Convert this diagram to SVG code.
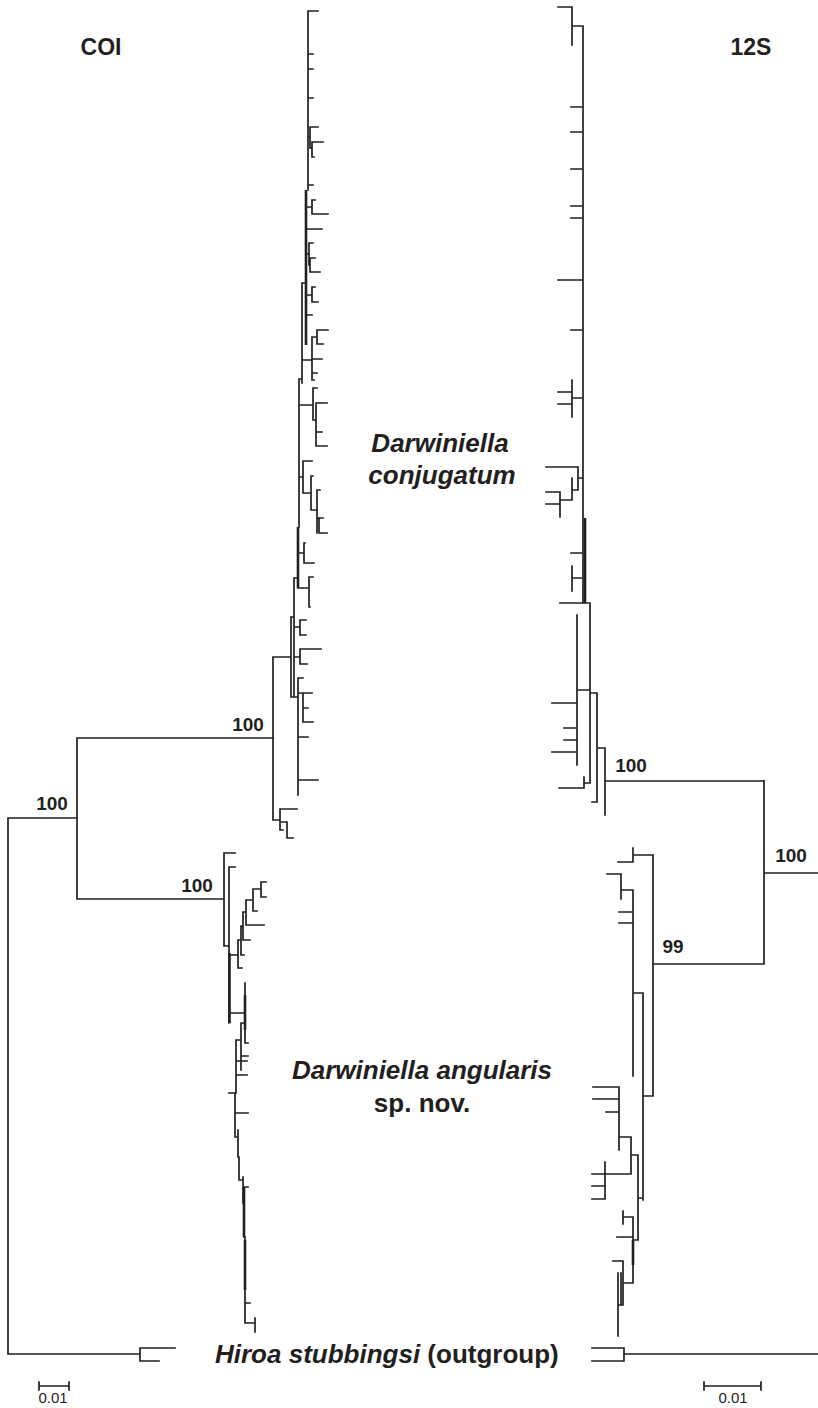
<svg xmlns="http://www.w3.org/2000/svg" width="818" height="1408" viewBox="0 0 818 1408">
<style>
.br{fill:none;stroke:#231f20;stroke-width:1.7;stroke-linecap:square}
.tk{fill:none;stroke:#231f20;stroke-width:2.6}
.t{font-family:"Liberation Sans",Arial,sans-serif;font-weight:bold;fill:#231f20}
.title{font-size:23px}
.bs{font-size:19px}
.sp{font-size:26px;font-style:italic}
.sn{font-size:26px;font-style:normal}
.sc{font-family:"Liberation Sans",Arial,sans-serif;font-size:15px;fill:#231f20}
</style>
<rect width="818" height="1408" fill="#fff"/>
<g id="connectors">
<g id="coi-conjugatum">
<path class="br" d="M308,11H318 M308,11V190 M308,54H313 M308,69H313 M308,98H313 M308,137H310 M310,127V148 M310,127H318 M310,148H312 M312,142V157 M312,142H323 M312,157H314 M308,185H313 M306,207H312 M312,200V214 M312,200H315 M312,214H328 M306,229H322 M306,254H309 M309,243V265 M309,243H313 M309,265H310 M310,258V272 M310,258H315 M310,272H320 M302,283V383 M302,283H306 M306,295H312 M312,287V302 M312,287H315 M312,302H318 M306,315H312 M302,360H312 M312,337V380 M312,337H317 M317,330V344 M317,330H328 M317,344H323 M312,359H322 M312,373H317 M312,380H314 M299,379V527 M299,379H302 M299,405H313 M313,388V420 M313,388H317 M313,420H316 M316,403V446 M316,403H327 M316,432H322 M316,446H327 M299,477H303 M303,461V493 M303,461H312 M303,493H311 M311,476V510 M311,476H313 M311,510H317 M317,490V533 M317,490H320 M317,518H319 M319,518V533 M319,518H323 M319,533H327 M298,553H304 M304,543V563 M304,543H305 M304,563H314 M298,588H309 M309,577V607 M309,577H313 M309,607H310 M294,578V697 M294,578H298 M291,617V697 M291,617H294 M294,627H300 M300,620V635 M300,620H306 M300,635H306 M294,657H300 M300,649V664 M300,649H321 M300,664H307 M273,657H291 M291,697H298 M298,678V795 M298,678H303 M298,693H303 M303,693V722 M303,693H312 M303,722H313 M303,708H308 M298,737H308 M298,780H318 M273,657V820 M273,820H280 M280,809V830 M280,809H297 M280,822H287 M287,822V838 M287,838H293 M280,830H283"/>
<path class="tk" d="M306,190V345 M298,527V588"/>
</g>
<g id="coi-root">
<path class="br" d="M77,738H273 M77,738V899 M8,818H77 M8,818V1354 M8,1354H140 M140,1348V1361 M140,1348H175 M140,1361H159 M77,899H224"/>
</g>
<g id="coi-angularis">
<path class="br" d="M224,853V946 M224,853H235 M224,946H229 M229,867V1023 M229,867H235 M229,955H238 M238,940V968 M238,968H242 M238,940H241 M241,926V955 M241,955H244 M241,926H243 M243,912V940 M243,940H250 M243,912H246 M246,900V925 M246,925H264 M246,900H253 M253,889V911 M253,911H257 M253,889H261 M261,882V897 M261,882H266 M261,897H266 M230,1013H245 M245,983V1043 M245,1043H248 M236,1040V1093 M236,1061H247 M236,1075H247 M236,1040H241 M241,1023V1070 M241,1056H248 M241,1023H245 M229,1093H235 M235,1093V1137 M235,1113H248 M235,1137H238 M238,1130V1157 M238,1157H239 M239,1157V1180 M239,1180H243 M243,1177V1203 M243,1187H248 M243,1203H244 M244,1237H245 M245,1237V1323 M245,1303H250 M245,1323H255 M255,1318V1332"/>
<path class="tk" d="M229.5,953V1023 M245,995V1030 M244,1187V1237 M245,1240V1290"/>
</g>
<g id="s12-conjugatum">
<path class="br" d="M558,7H572 M572,7V45 M572,26H583 M583,26V603 M571,107H583 M571,132H583 M571,169H583 M571,206H583 M571,218H583 M571,330H583 M558,280H583 M572,380V417 M558,392H572 M558,404H572 M572,398H583 M578,467V490 M546,467H578 M578,478H583 M572,478V500 M572,490H578 M560,492V517 M546,492H560 M546,504H560 M560,500H572 M571,553H583 M572,566V591 M572,578H583 M560,603H590 M590,603V783 M577,615V765 M577,690H590 M552,703H577 M564,728H577 M564,740H577 M552,752H577 M584,777V788 M584,783H590 M559,788H584 M590,693H597 M597,693V802 M592,802H597 M597,748H605 M605,748V815 M605,781H764"/>
<path class="tk" d="M585,518V603"/>
</g>
<g id="s12-root">
<path class="br" d="M764,781V964 M764,873H818 M653,964H764 M624,1354H818"/>
</g>
<g id="s12-angularis">
<path class="br" d="M653,855V1096 M633,855H653 M633,848V862 M618,862H633 M607,874H621 M621,874V899 M621,890H633 M633,890V1076 M619,912H633 M619,923H633 M633,993H643 M643,993V1200 M643,1096H653 M593,1087H619 M593,1099H619 M606,1112H619 M619,1087V1150 M619,1137H631 M631,1137V1174 M631,1155H638 M638,1155V1240 M638,1198H643 M592,1174H631 M605,1162V1199 M592,1186H605 M592,1199H605 M623,1211V1224 M623,1217H633 M633,1217V1283 M633,1240H638 M617,1237H632 M623,1283H633 M623,1261V1305 M613,1261H623 M618,1305H623 M618,1273V1336 M621,1273V1305 M592,1348H624 M592,1361H624 M624,1348V1361"/>
<path class="tk" d="M633,1240V1265"/>
</g>
<g id="scalebars">
<path class="br" d="M39,1386H69 M39,1382V1390 M69,1382V1390 M704,1386H761 M704,1382V1390 M761,1382V1390"/>
</g>
</g>
<g id="title-coi"><text class="t title" x="101" y="55" text-anchor="middle">COI</text></g>
<g id="title-12s"><text class="t title" x="751" y="55" text-anchor="middle">12S</text></g>
<g id="support-labels">
<text class="t bs" x="248" y="731" text-anchor="middle">100</text>
<text class="t bs" x="52" y="810" text-anchor="middle">100</text>
<text class="t bs" x="197" y="892" text-anchor="middle">100</text>
<text class="t bs" x="631" y="772" text-anchor="middle">100</text>
<text class="t bs" x="791" y="862" text-anchor="middle">100</text>
<text class="t bs" x="673" y="953" text-anchor="middle">99</text>
</g>
<g id="label-conjugatum">
<text class="t sp" x="440" y="452" text-anchor="middle">Darwiniella</text>
<text class="t sp" x="442" y="484" text-anchor="middle">conjugatum</text>
</g>
<g id="label-angularis">
<text class="t sp" x="422" y="1079" text-anchor="middle">Darwiniella angularis</text>
<text class="t sn" x="422" y="1112" text-anchor="middle">sp. nov.</text>
</g>
<g id="label-outgroup">
<text class="t" x="215" y="1363" font-size="26"><tspan font-style="italic">Hiroa stubbingsi</tspan> (outgroup)</text>
</g>
<g id="scale-labels">
<text class="sc" x="53" y="1403" text-anchor="middle">0.01</text>
<text class="sc" x="733" y="1403" text-anchor="middle">0.01</text>
</g>
</svg>
